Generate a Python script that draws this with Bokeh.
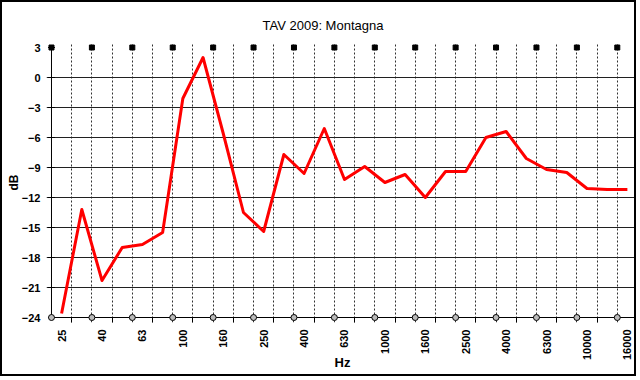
from math import pi
from bokeh.plotting import figure
from bokeh.models import FixedTicker, Range1d
from bokeh.embed import file_html
from bokeh.resources import INLINE

# ---- data -------------------------------------------------------------
freqs = ["25", "31.5", "40", "50", "63", "80", "100", "125", "160", "200",
         "250", "315", "400", "500", "630", "800", "1000", "1250", "1600",
         "2000", "2500", "3150", "4000", "5000", "6300", "8000", "10000",
         "12500", "16000"]
levels_db = [-23.6, -13.2, -20.3, -17.0, -16.7, -15.5, -2.1, 2.0, -5.6,
             -13.5, -15.4, -7.7, -9.6, -5.1, -10.2, -8.9, -10.5, -9.7,
             -12.0, -9.4, -9.4, -6.0, -5.4, -8.1, -9.2, -9.5, -11.1,
             -11.2, -11.2]
y_ticks = [-24, -21, -18, -15, -12, -9, -6, -3, 0, 3]
title_text = "TAV 2009: Montagna"
x_title = "Hz"
y_title = "dB"

n = len(freqs)
xs = [i + 0.5 for i in range(n)]
label_idx = list(range(0, n, 2))
boundaries_even = list(range(0, n, 2))
y_lo, y_hi = y_ticks[0], y_ticks[-1]

FONT = "Liberation Sans"

p = figure(width=636, height=376,
           x_range=Range1d(-0.247, n + 0.05),
           y_range=Range1d(y_lo - 0.5, y_hi + 0.5),
           output_backend="svg", toolbar_location=None,
           min_border_left=44, min_border_right=0,
           min_border_top=40, min_border_bottom=56,
           background_fill_color="white", border_fill_color="white",
           outline_line_color=None)
p.styles = {"border": "2px solid black"}

# title
p.title.text = title_text
p.title.align = "left"
p.title.offset = 216
p.title.text_font = FONT
p.title.text_font_size = "13px"
p.title.text_font_style = "normal"
p.title.text_color = "black"
p.title.standoff = 20

# x axis (labels only; the line is drawn as a glyph)
xa = p.xaxis[0]
xa.ticker = FixedTicker(ticks=[xs[i] for i in label_idx],
                        minor_ticks=list(range(1, n, 2)))
xa.major_label_overrides = {xs[i]: freqs[i] for i in label_idx}
xa.major_label_orientation = pi / 2
xa.major_tick_in = 0
xa.major_tick_out = 0
xa.minor_tick_in = 5
xa.minor_tick_out = 0
xa.minor_tick_line_color = "black"
xa.axis_line_color = None
xa.major_label_text_font = FONT
xa.major_label_text_font_size = "11px"
xa.major_label_text_font_style = "bold"
xa.major_label_text_color = "black"
xa.major_label_standoff = 7
xa.axis_label = x_title
xa.axis_label_standoff = -8
xa.axis_label_text_font = FONT
xa.axis_label_text_font_size = "13px"
xa.axis_label_text_font_style = "bold"
xa.axis_label_text_color = "black"

# y axis
ya = p.yaxis[0]
ya.ticker = FixedTicker(ticks=y_ticks, minor_ticks=[])
ya.major_tick_in = 0
ya.major_tick_out = 0
ya.axis_line_color = None
ya.major_label_text_font = FONT
ya.major_label_text_font_size = "11px"
ya.major_label_text_font_style = "bold"
ya.major_label_text_color = "black"
ya.major_label_standoff = 6
ya.axis_label = y_title
ya.axis_label_standoff = -2
ya.axis_label_text_font = FONT
ya.axis_label_text_font_size = "12px"
ya.axis_label_text_font_style = "bold"
ya.axis_label_text_color = "black"

# grids
p.xgrid.ticker = FixedTicker(ticks=list(range(1, n)))
p.xgrid.grid_line_color = "#303030"
p.xgrid.grid_line_dash = "2 2"
p.xgrid.grid_line_width = 1
p.xgrid.bounds = (y_lo, y_hi)
p.ygrid.ticker = FixedTicker(ticks=y_ticks[1:-1])
p.ygrid.grid_line_color = "#202020"
p.ygrid.grid_line_width = 1
p.ygrid.bounds = (0, n)

# axis lines and y tick marks
p.segment(x0=[0, 0], y0=[y_lo, y_lo], x1=[n, 0], y1=[y_lo, y_hi],
          line_color="black", line_width=1)
p.scatter(x=[0] * len(y_ticks), y=y_ticks, marker="dash", size=7,
          line_color="black", line_width=1)

# data line
p.line(xs, levels_db, line_color="#ff0000", line_width=3, line_join="round")

# axis markers
p.scatter(x=boundaries_even, y=[y_hi] * len(boundaries_even),
          marker="square", size=5, color="black")
p.scatter(x=boundaries_even, y=[y_lo] * len(boundaries_even),
          marker="circle", size=6, fill_color="#bbbbbb", line_color="black",
          line_width=1)

open("out.html", "w").write(file_html(p, INLINE))
